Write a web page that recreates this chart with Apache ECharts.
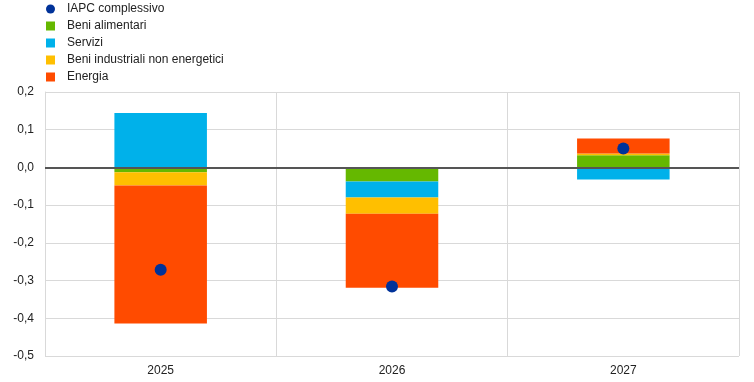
<!DOCTYPE html>
<html><head><meta charset="utf-8">
<script src="https://cdn.jsdelivr.net/npm/echarts@6/dist/echarts.min.js"></script>
<style>html,body{margin:0;padding:0;background:#fff}#c{width:754px;height:382px}</style>
</head><body><div id="c"></div>
<script>
const categories = ['2025', '2026', '2027'];
const yTicks = [-0.5, -0.4, -0.3, -0.2, -0.1, 0.0, 0.1, 0.2];
const iapc = [-0.271, -0.316, 0.05];
const beniAlimentari = [-0.013, -0.037, 0.032];
const servizi = [0.144, -0.043, -0.032];
const beniIndustriali = [-0.035, -0.043, 0.005];
const energia = [-0.366, -0.196, 0.04];

const font = 'Liberation Sans, Arial, sans-serif';
const chart = echarts.init(document.getElementById('c'));
const barBase = {type: 'bar', stack: 'tot', barWidth: '40%', silent: true};
chart.setOption({
  animation: false,
  grid: {left: 45, right: 15, top: 92, bottom: 26, containLabel: false},
  legend: {
    orient: 'vertical', left: 46, top: 3, padding: 0, itemWidth: 9, itemHeight: 9, itemGap: 5,
    textStyle: {fontFamily: font, fontSize: 12, color: '#222', padding: [0, 0, 0, 7]},
    data: [
      {name: 'IAPC complessivo', icon: 'circle'},
      {name: 'Beni alimentari', icon: 'rect'},
      {name: 'Servizi', icon: 'rect'},
      {name: 'Beni industriali non energetici', icon: 'rect'},
      {name: 'Energia', icon: 'rect'}
    ]
  },
  xAxis: {
    type: 'category', data: categories,
    axisLine: {show: false}, axisTick: {show: false},
    splitLine: {show: true, lineStyle: {color: '#d9d9d9', width: 1}},
    axisLabel: {fontFamily: font, fontSize: 12, color: '#222', margin: 9}
  },
  yAxis: {
    type: 'value', min: -0.5, max: 0.2, interval: 0.1,
    axisLine: {show: true, lineStyle: {color: '#d9d9d9'}}, axisTick: {show: false},
    splitLine: {show: true, lineStyle: {color: '#d9d9d9', width: 1}},
    axisLabel: {fontFamily: font, fontSize: 12, color: '#222', margin: 11,
      formatter: v => v.toFixed(1).replace('.', ',')}
  },
  series: [
    Object.assign({}, barBase, {name: 'Beni alimentari', data: beniAlimentari, itemStyle: {color: '#65B800'},
      markLine: {silent: true, symbol: 'none', label: {show: false},
        lineStyle: {color: '#555', width: 2, type: 'solid'}, data: [{yAxis: 0}]}}),
    Object.assign({}, barBase, {name: 'Servizi', data: servizi, itemStyle: {color: '#00B1EA'}}),
    Object.assign({}, barBase, {name: 'Beni industriali non energetici', data: beniIndustriali, itemStyle: {color: '#FFBF00'}}),
    Object.assign({}, barBase, {name: 'Energia', data: energia, itemStyle: {color: '#FF4B00'}}),
    {type: 'scatter', name: 'IAPC complessivo', data: iapc, symbolSize: 12, z: 10,
      itemStyle: {color: '#003299', opacity: 1}}
  ]
});
</script></body></html>
